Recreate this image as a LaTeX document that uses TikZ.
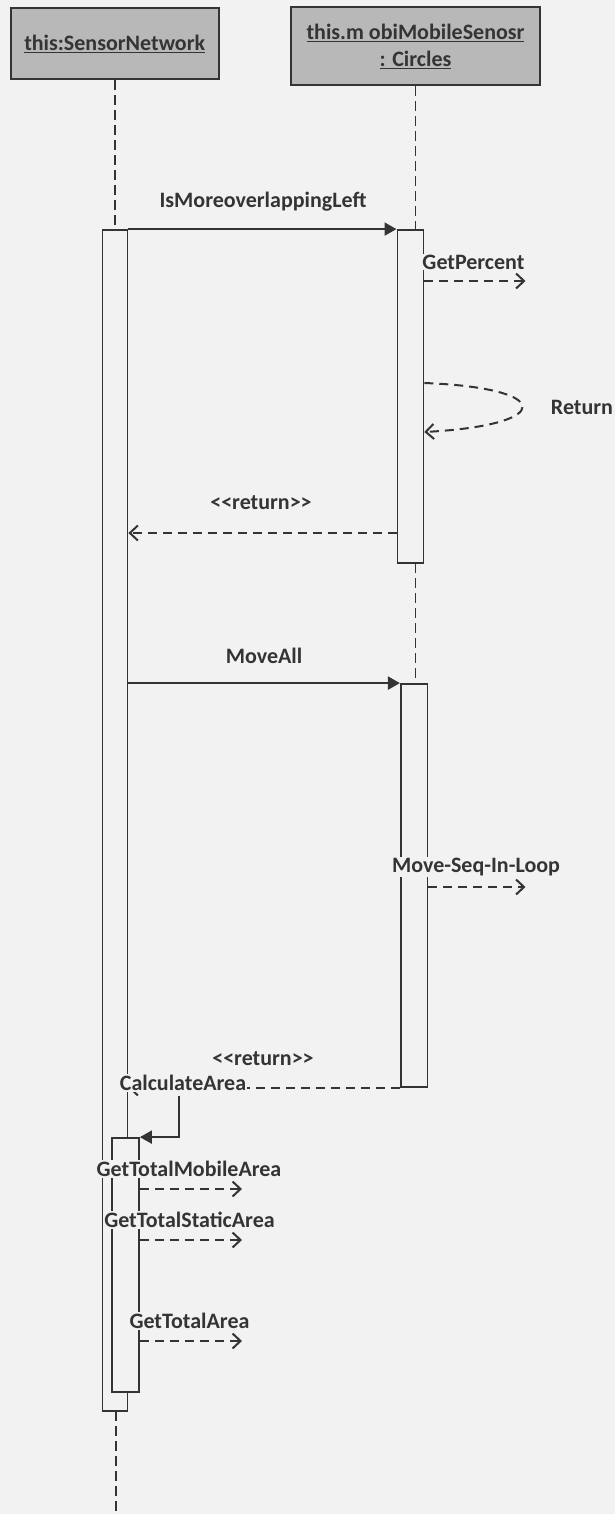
\documentclass[tikz,border=0pt]{standalone}
\usepackage{fontspec}
\setmainfont{Carlito}
\usetikzlibrary{arrows.meta}
\definecolor{bgc}{RGB}{242,242,242}
\definecolor{hdr}{RGB}{184,184,184}
\definecolor{ink}{RGB}{52,52,52}
\newcommand{\retlbl}{\textless\kern0pt\textless\kern0pt return\kern0pt\textgreater\kern0pt\textgreater}
\begin{document}
\begin{tikzpicture}[x=1pt,y=-1pt,
  every node/.style={font=\fontsize{22}{27}\selectfont\bfseries, text=ink},
  head/.style={draw=ink, line width=2.4pt, fill=hdr, align=center, inner sep=0pt},
  act/.style={draw=ink, line width=1.8pt, fill=bgc, inner sep=0pt},
  life/.style={draw=ink, line width=1.8pt, dash pattern=on 10pt off 5pt},
  call/.style={draw=ink, line width=2pt, -{Triangle[length=12pt,width=13pt]}},
  reply/.style={draw=ink, line width=2pt, dash pattern=on 9pt off 6pt, -{Straight Barb[length=8pt,width=15pt]}},
  lbl/.style={inner sep=1pt},
  flbl/.style={inner sep=1pt, fill=bgc}]
\fill[bgc] (0,0) rectangle (615,1514);
\useasboundingbox (0,0) rectangle (615,1514);
% heads
\node[head, minimum width=208pt, minimum height=71pt] (h1) at (114.7,43.7) {\underline{this:SensorNetwork}};
\node[head, minimum width=249pt, minimum height=78pt] (h2) at (415.5,46.2) {\underline{this.m obiMobileSenosr}\\\underline{: Circles}};
% helper coordinates
\coordinate (yRa) at (0,383);
\coordinate (yRb) at (0,432);
\coordinate (yR1) at (0,533);
\coordinate (bot) at (115.7,1514);
% activation placeholders (for lifelines)
\path (115,820.5) node[minimum width=25pt, minimum height=1181pt, inner sep=0pt] (a1p) {};
\path (410.4,396.5) node[minimum width=26pt, minimum height=333pt, inner sep=0pt] (a2p) {};
\path (414.2,885.5) node[minimum width=26.7pt, minimum height=403pt, inner sep=0pt] (a2bp) {};
% lifelines
\draw[life] (h1.south) -- (h1.south |- a1p.north);
\draw[life] (h2.south) -- (h2.south |- a2p.north);
\draw[life] (h2.south |- a2p.south) -- (h2.south |- a2bp.north);
\draw[life] (bot |- a1p.south) -- (bot);
% activations
\node[act, minimum width=25pt, minimum height=1181pt] (a1) at (115,820.5) {};
\node[act, minimum width=26pt, minimum height=333pt] (a2) at (410.4,396.5) {};
\node[act, minimum width=26.7pt, minimum height=403pt] (a2b) at (414.2,885.5) {};
\node[act, minimum width=27pt, minimum height=254pt] (a3) at (125.5,1265) {};
% IsMoreoverlappingLeft
\draw[call] (a1.north east) -- (a2.north west);
\node[lbl] (t1) at (263,202) {IsMoreoverlappingLeft};
% GetPercent
\coordinate (gp) at (525.5,281);
\draw[reply] (a2.east |- gp) -- (gp);
\node[flbl] (t2) at (473.5,262) {GetPercent};
% Return self loop
\draw[reply] (a2.east |- yRa) .. controls (555,388) and (555,425) .. (a2.east |- yRb);
\node[lbl] (t3) at (582,407) {Return};
% <<return>> 1
\draw[reply] (a2.west |- yR1) -- (a1.east |- yR1);
\node[lbl] (t4) at (261,503) {\retlbl};
% MoveAll
\draw[call] (a1.east |- a2b.north) -- (a2b.north west);
\node[lbl] (t5) at (264,656) {MoveAll};
% Move-Seq-In-Loop
\coordinate (ms) at (525.5,887);
\draw[reply] (a2b.east |- ms) -- (ms);
\node[flbl] (t6) at (476,867) {Move-Seq-In-Loop};
% <<return>> 2
\draw[reply] (a2b.south west) -- (a1.east |- a2b.south west);
\node[lbl] (t7) at (263,1059) {\retlbl};
\node[flbl] (t8) at (183,1083) {CalculateArea};
% CalculateArea self call
\coordinate (ca) at (179,1096);
\draw[call] (ca) |- (a3.north east);
% GetTotal...
\coordinate (g1) at (242,1189);
\coordinate (g2) at (242,1240);
\coordinate (g3) at (242,1341);
\draw[reply] (a3.east |- g1) -- (g1);
\draw[reply] (a3.east |- g2) -- (g2);
\draw[reply] (a3.east |- g3) -- (g3);
\node[flbl] (t9) at (189,1169) {GetTotalMobileArea};
\node[flbl] (t10) at (189.5,1220) {GetTotalStaticArea};
\node[flbl] (t11) at (189.5,1321) {GetTotalArea};
\end{tikzpicture}
\end{document}
